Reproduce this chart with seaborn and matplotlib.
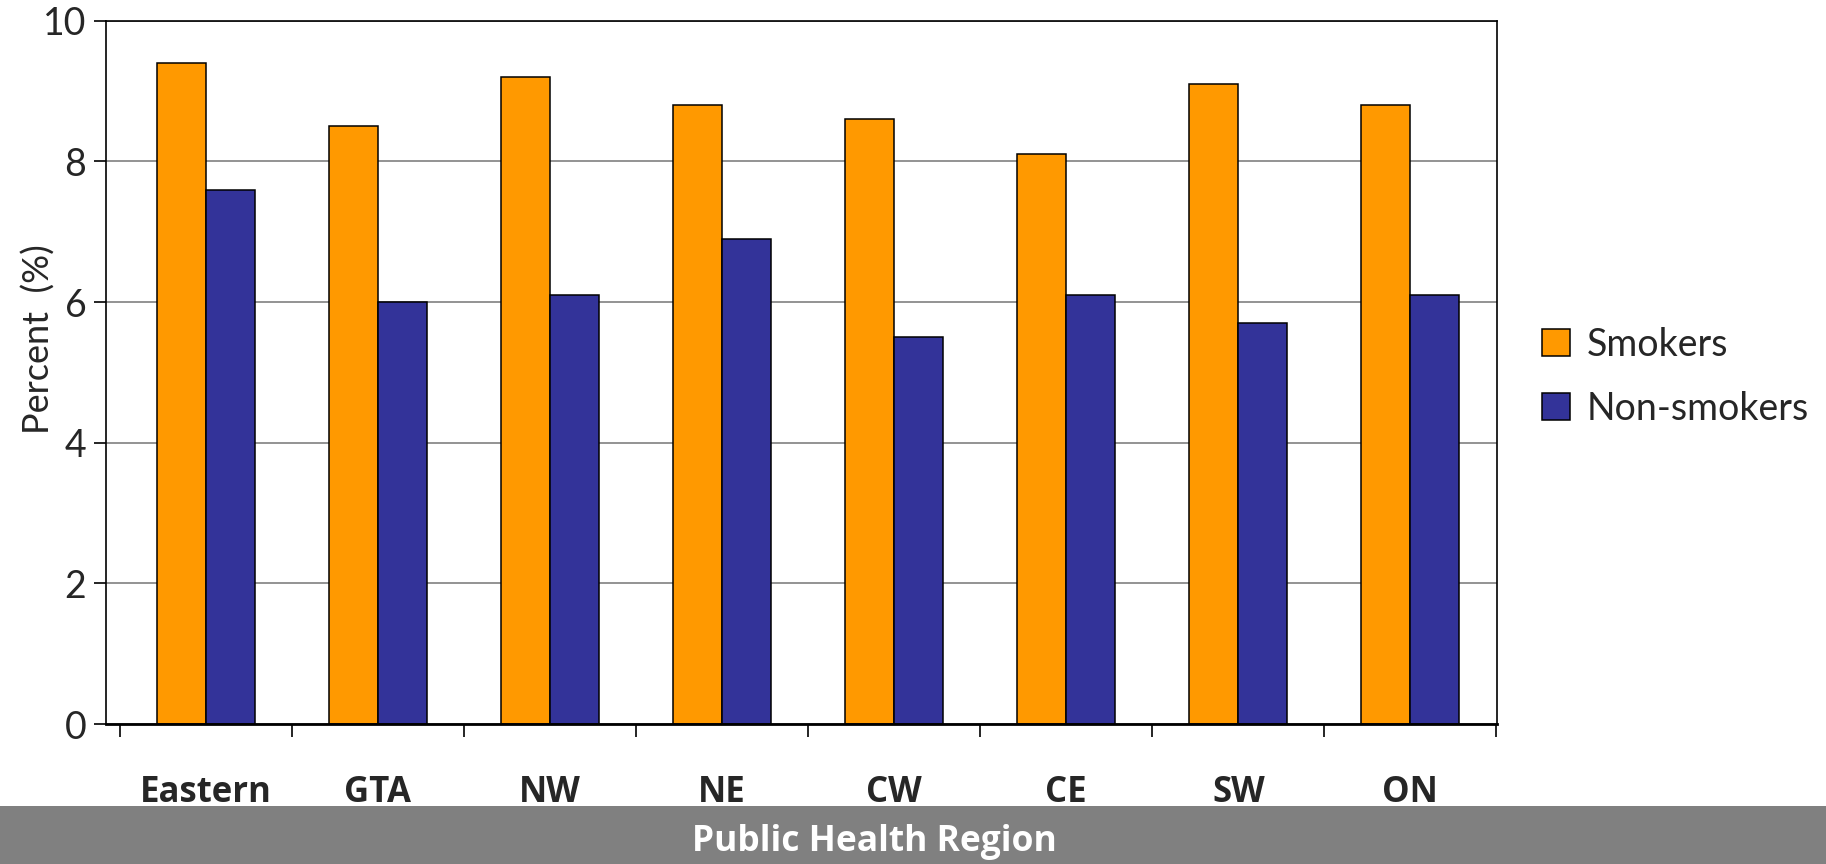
import pandas as pd
import seaborn as sns
import matplotlib.pyplot as plt
from matplotlib.patches import Rectangle

# Values
regions = ['Eastern', 'GTA', 'NW', 'NE', 'CW', 'CE', 'SW', 'ON']
smokers = [9.4, 8.5, 9.2, 8.8, 8.6, 8.1, 9.1, 8.8]
non_smokers = [7.6, 6.0, 6.1, 6.9, 5.5, 6.1, 5.7, 6.1]
series = ['Smokers', 'Non-smokers']
colors = ['#FF9900', '#333399']

df = pd.DataFrame({'region': regions * 2,
                   'group': [series[0]] * len(regions) + [series[1]] * len(regions),
                   'percent': smokers + non_smokers})

sns.set_style('white')
plt.rcParams['font.family'] = ['Lato', 'DejaVu Sans']

fig = plt.figure(figsize=(18.26, 8.64), dpi=100)
ax = fig.add_axes([0.058, 0.162, 0.762, 0.814])

sns.barplot(data=df, x='region', y='percent', hue='group', order=regions,
            hue_order=series, palette=colors, width=0.57, saturation=1,
            edgecolor='black', linewidth=1.1, ax=ax, legend=False)

ax.set_xlim(-0.58, 7.505)
ax.set_ylim(0, 10)
ax.set_yticks(range(0, 11, 2))
ax.yaxis.grid(True, color='#808080', linewidth=1.2)
ax.set_axisbelow(True)
for s in ax.spines.values():
    s.set_color('black')
    s.set_linewidth(1.2)
ax.spines['bottom'].set_linewidth(2)

ax.tick_params(axis='y', direction='out', length=9, width=1.2, color='black',
               labelsize=27, pad=5, left=True)
# category separators as minor ticks, labels at the centers
ax.set_xticks([i - 0.5 for i in range(len(regions) + 1)], minor=True)
ax.tick_params(axis='x', which='minor', direction='out', length=9, width=1.2,
               color='black', bottom=True)
ax.tick_params(axis='x', which='major', length=0, pad=37)
ax.set_xticklabels(regions, fontsize=25, fontweight='bold', family='Open Sans')
ax.set_xlabel('')
ax.set_ylabel('')

fig.text(0.021, 0.607, 'Percent  (%)', rotation=90, ha='center', va='center',
         fontsize=26)

# gray band with axis title
fig.patches.append(Rectangle((0, 0), 1, 0.067, transform=fig.transFigure,
                             facecolor='#808080', edgecolor='none', zorder=0))
fig.text(0.479, 0.026, 'Public Health Region', ha='center', va='center',
         fontsize=25.5, fontweight='bold', color='white', family='Open Sans')

handles = [Rectangle((0, 0), 1, 1, facecolor=c, edgecolor='black', linewidth=1.1)
           for c in colors]
fig.legend(handles, series, loc='center left', bbox_to_anchor=(0.826, 0.564),
           frameon=False, fontsize=27, handlelength=0.75, handleheight=0.75,
           handletextpad=0.45, labelspacing=0.75)

fig.savefig('out.png', dpi=100)
